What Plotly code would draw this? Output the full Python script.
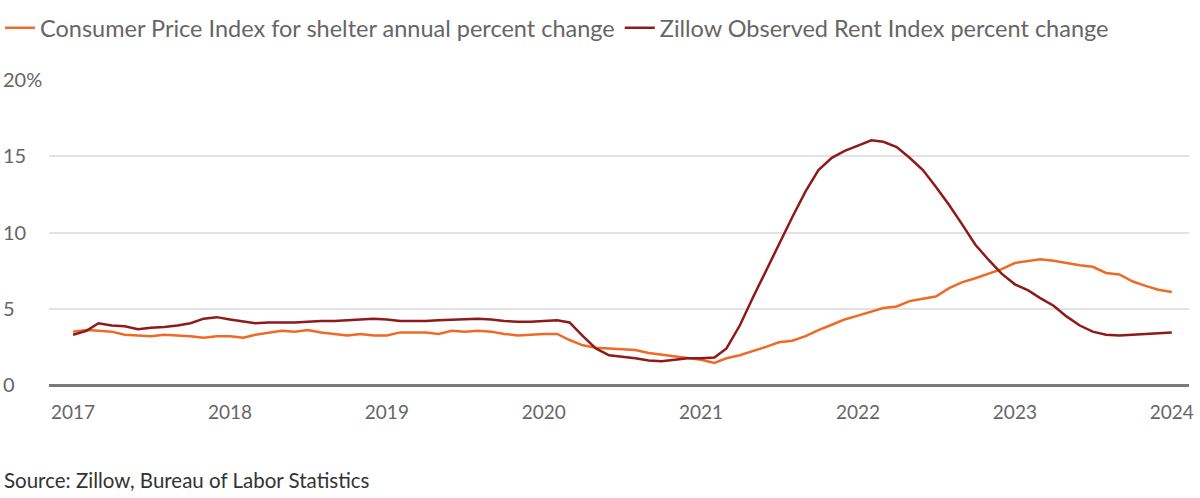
import pandas as pd
import plotly.graph_objects as go

# ---- data ----
months = pd.date_range("2017-01-01", periods=85, freq="MS")

cpi_shelter = [
    3.5, 3.6, 3.55, 3.5, 3.3, 3.25, 3.2, 3.3, 3.25, 3.2, 3.1, 3.2,
    3.2, 3.1, 3.3, 3.45, 3.55, 3.5, 3.6, 3.45, 3.35, 3.25, 3.35, 3.25,
    3.25, 3.45, 3.45, 3.45, 3.35, 3.55, 3.5, 3.55, 3.5, 3.35, 3.25, 3.3,
    3.35, 3.35, 2.95, 2.6, 2.45, 2.4, 2.35, 2.3, 2.1, 2.0, 1.9, 1.8,
    1.65, 1.45, 1.75, 1.95, 2.2, 2.5, 2.8, 2.9, 3.2, 3.6, 3.95, 4.3,
    4.55, 4.8, 5.05, 5.15, 5.5, 5.65, 5.8, 6.35, 6.75, 7.0, 7.3, 7.6,
    8.0, 8.15, 8.25, 8.15, 8.0, 7.85, 7.75, 7.35, 7.25, 6.8, 6.5, 6.25, 6.1,
]

zillow_rent = [
    3.3, 3.55, 4.05, 3.9, 3.85, 3.65, 3.75, 3.8, 3.9, 4.05, 4.35, 4.45,
    4.3, 4.15, 4.05, 4.1, 4.1, 4.1, 4.15, 4.2, 4.2, 4.25, 4.3, 4.35,
    4.3, 4.2, 4.2, 4.2, 4.25, 4.3, 4.3, 4.35, 4.3, 4.2, 4.15, 4.15,
    4.2, 4.25, 4.1, 3.2, 2.4, 1.95, 1.85, 1.75, 1.6, 1.55, 1.65, 1.75,
    1.75, 1.8, 2.4, 3.9, 5.7, 7.5, 9.3, 11.0, 12.7, 14.1, 14.9, 15.35,
    15.7, 16.05, 15.95, 15.6, 14.9, 14.1, 13.0, 11.8, 10.5, 9.2, 8.2, 7.3,
    6.6, 6.2, 5.7, 5.2, 4.5, 3.9, 3.5, 3.3, 3.25, 3.3, 3.35, 3.4, 3.45,
]

series_names = [
    "Consumer Price Index for shelter annual percent change",
    "Zillow Observed Rent Index percent change",
]

y_tick_vals = [0, 5, 10, 15, 20]
y_tick_text = ["0", "5", "10", "15", "20%"]
x_tick_vals = pd.date_range("2017-01-01", "2024-01-01", freq="YS")
x_tick_text = [str(d.year) for d in x_tick_vals]

source_text = "Source: Zillow, Bureau of Labor Statistics"

# ---- style ----
FONT = "Lato"
TXT = "#666666"
ORANGE = "#EF6A25"
DARKRED = "#8E1A1A"

fig = go.Figure()
fig.add_trace(go.Scatter(
    x=months, y=cpi_shelter, name=series_names[0], mode="lines",
    line=dict(color=ORANGE, width=2.5), xaxis="x", yaxis="y",
))
fig.add_trace(go.Scatter(
    x=months, y=zillow_rent, name=series_names[1], mode="lines",
    line=dict(color=DARKRED, width=2.5), xaxis="x", yaxis="y",
))
# invisible helper trace so the left-aligned label axis is drawn
fig.add_trace(go.Scatter(
    x=months, y=zillow_rent, mode="lines", showlegend=False,
    line=dict(width=0), opacity=0, hoverinfo="skip", xaxis="x", yaxis="y2",
))

PLOT_L, PLOT_R = 2, 1189
x_dom_start = (49 - PLOT_L) / (PLOT_R - PLOT_L)

fig.update_layout(
    width=1200, height=498,
    margin=dict(l=PLOT_L, r=1200 - PLOT_R, t=80, b=113, autoexpand=False),
    paper_bgcolor="white", plot_bgcolor="white",
    font=dict(family=FONT, color=TXT, size=19),
    xaxis=dict(
        domain=[x_dom_start, 1],
        type="date",
        range=["2016-11-06", "2024-02-10"],
        tickvals=x_tick_vals, ticktext=x_tick_text,
        showgrid=False, zeroline=False,
        showline=False, automargin=False,
        ticks="outside", ticklen=10, tickcolor="rgba(0,0,0,0)",
        tickfont=dict(size=19, color=TXT, family=FONT),
    ),
    yaxis=dict(
        range=[0, 20],
        tickvals=y_tick_vals,
        showticklabels=False, automargin=False,
        showgrid=True, gridcolor="#e2e2e2", gridwidth=2,
        zeroline=True, zerolinecolor="#7a7a7a", zerolinewidth=2.5,
        showline=False,
    ),
    yaxis2=dict(
        overlaying="y", matches="y", anchor="free", position=0, side="right",
        range=[0, 20], automargin=False,
        tickvals=y_tick_vals, ticktext=y_tick_text,
        showgrid=False, zeroline=False, showline=False, ticks="",
        ticklabelstandoff=0,
        tickfont=dict(size=20, color=TXT, family=FONT),
    ),
    legend=dict(
        orientation="h",
        xref="container", yref="container",
        x=-0.01, y=1 - 6 / 498, xanchor="left", yanchor="top",
        font=dict(size=23.5, color=TXT, family=FONT),
        itemwidth=30,
        bgcolor="rgba(0,0,0,0)",
    ),
    showlegend=True,
    hovermode=False,
    annotations=[dict(
        text=source_text, xref="paper", yref="paper",
        x=0, y=-(480 - 385) / 305, xanchor="left", yanchor="middle",
        showarrow=False, font=dict(size=20.5, color="#333333", family=FONT),
    )],
)

# remove the default page margin so the figure sits at the window's top-left
fig.write_html(
    "out.html",
    config={"displayModeBar": False},
    post_script="document.body.style.margin='0';",
)
